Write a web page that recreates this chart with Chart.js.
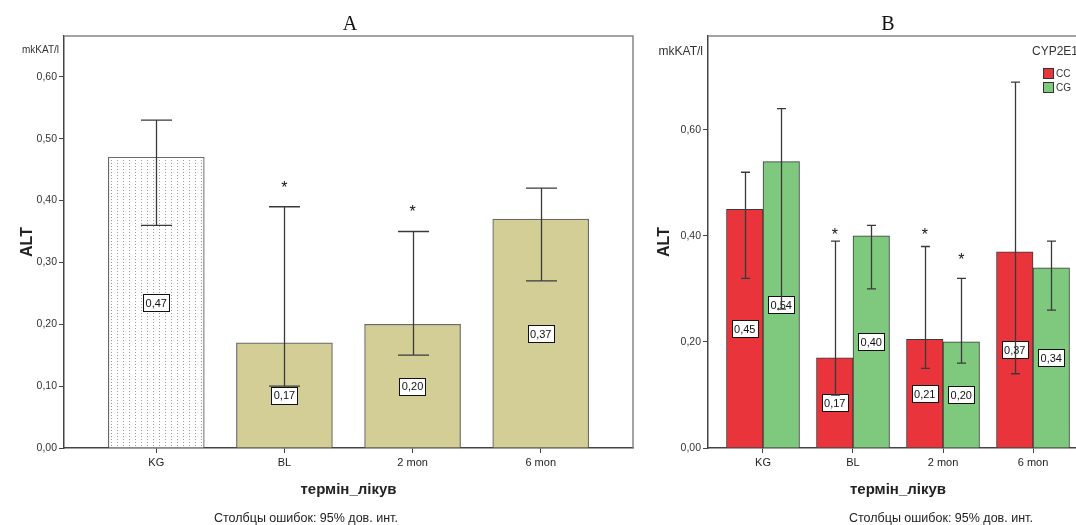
<!DOCTYPE html>
<html><head><meta charset="utf-8">
<script src="https://cdn.jsdelivr.net/npm/chart.js@4/dist/chart.umd.min.js"></script>
<style>
html,body{margin:0;padding:0;background:#fff;overflow:hidden;width:1076px;height:525px;position:relative;}
#ca{position:absolute;left:0;top:0;}
#cb{position:absolute;left:640px;top:0;}
</style></head><body>
<canvas id="ca" width="640" height="525"></canvas>
<canvas id="cb" width="460" height="525"></canvas>
<script>
// ---- data ----
const categories = ['KG', 'BL', '2 mon', '6 mon'];
const yTicksA = [0, 0.1, 0.2, 0.3, 0.4, 0.5, 0.6];
const yTicksB = [0, 0.2, 0.4, 0.6];

const altA      = [0.47, 0.17, 0.20, 0.37];
const altALow   = [0.36, 0.10, 0.15, 0.27];
const altAHigh  = [0.53, 0.39, 0.35, 0.42];
const labelsA   = ['0,47', '0,17', '0,20', '0,37'];
const starsA    = [null, 0.427, 0.388, null];

const altCC     = [0.45, 0.17, 0.205, 0.37];
const altCCLow  = [0.32, 0.10, 0.15, 0.14];
const altCCHigh = [0.52, 0.39, 0.38, 0.69];
const labelsCC  = ['0,45', '0,17', '0,21', '0,37'];
const starsCC   = [null, 0.409, 0.409, null];

const altCG     = [0.54, 0.40, 0.20, 0.34];
const altCGLow  = [0.262, 0.30, 0.16, 0.26];
const altCGHigh = [0.64, 0.42, 0.32, 0.39];
const labelsCG  = ['0,54', '0,40', '0,20', '0,34'];
const starsCG   = [null, null, 0.362, null];

const xTitle = 'термін_лікув';
const yTitle = 'ALT';
const unitText = 'mkKAT/l';
const footnote = 'Столбцы ошибок: 95% дов. инт.';
const legendTitle = 'CYP2E1';

// ---- styling ----
const F = '"Liberation Sans", Arial, sans-serif';
const SERIF = '"Liberation Serif", "Times New Roman", serif';
const AXIS = '#444';

function dotPattern(ctx) {
  const c = document.createElement('canvas');
  c.width = 6; c.height = 3;
  const g = c.getContext('2d');
  g.fillStyle = '#ffffff'; g.fillRect(0, 0, 6, 3);
  g.fillStyle = '#9a9a9a'; g.fillRect(3, 1, 1, 1);
  return ctx.createPattern(c, 'repeat');
}

function toPts(vals) { return vals.map((v, i) => ({ x: i, y: v })); }

function makeScales(o) {
  const tickGrid = { display: true, drawOnChartArea: false, drawTicks: true, tickLength: 5, color: AXIS, offset: false };
  const border = { display: true, color: AXIS, width: 1.5 };
  return {
    x: {
      type: 'linear', min: o.xmin, max: o.xmax, offset: false,
      afterBuildTicks: s => { s.ticks = categories.map((c, i) => ({ value: i })); },
      afterFit: s => { s.height = 52; },
      ticks: { callback: v => categories[v] ?? '', font: { family: F, size: 11 }, color: '#222', padding: 3, maxRotation: 0, autoSkip: false },
      grid: tickGrid, border: border,
      title: { display: true, text: xTitle, font: { family: F, size: 15, weight: 'bold' }, color: '#222', padding: { top: 0, bottom: 1 } }
    },
    y: {
      type: 'linear', min: 0, max: o.ymax,
      afterBuildTicks: s => { s.ticks = o.yticks.map(v => ({ value: v })); },
      afterFit: s => { s.width = o.yw; },
      ticks: { callback: v => Number(v).toFixed(2).replace('.', ','), font: { family: F, size: 10.5 }, color: '#333', padding: 2 },
      grid: tickGrid, border: border,
      title: { display: true, text: yTitle, font: { family: F, size: 16, weight: 'bold' }, color: '#222', padding: { top: 4, bottom: 4 } }
    }
  };
}

const extras = {
  id: 'extras',
  afterDatasetsDraw(chart) {
    const o = chart.options.plugins.extras;
    const { ctx, scales: { y } } = chart;
    chart.data.datasets.forEach((ds, di) => {
      const meta = chart.getDatasetMeta(di);
      meta.data.forEach((bar, i) => {
        const x = bar.x;
        const ly = y.getPixelForValue(ds.data[i].y / 2);
        ctx.save();
        ctx.font = '11px ' + F;
        const w = ctx.measureText(ds.valueLabels[i]).width + 5;
        const h = 17;
        ctx.fillStyle = '#fff';
        ctx.fillRect(Math.round(x - w / 2) + 0.5, Math.round(ly - h / 2) + 0.5, Math.round(w), h);
        ctx.strokeStyle = '#111'; ctx.lineWidth = 1;
        ctx.strokeRect(Math.round(x - w / 2) + 0.5, Math.round(ly - h / 2) + 0.5, Math.round(w), h);
        ctx.fillStyle = '#111'; ctx.textAlign = 'center'; ctx.textBaseline = 'middle';
        ctx.fillText(ds.valueLabels[i], x, ly + 1);
        ctx.restore();
      });
    });
    chart.data.datasets.forEach((ds, di) => {
      const meta = chart.getDatasetMeta(di);
      meta.data.forEach((bar, i) => {
        const x = Math.round(bar.x) + 0.5;
        const yl = y.getPixelForValue(ds.low[i]);
        const yh = y.getPixelForValue(ds.high[i]);
        const c = o.cap;
        ctx.save();
        ctx.strokeStyle = '#3a3a3a'; ctx.lineWidth = 1.3;
        ctx.beginPath();
        ctx.moveTo(x, yl); ctx.lineTo(x, yh);
        ctx.moveTo(x - c, yh); ctx.lineTo(x + c, yh);
        ctx.moveTo(x - c, yl); ctx.lineTo(x + c, yl);
        ctx.stroke();
        if (ds.stars[i] != null) {
          const sy = y.getPixelForValue(ds.stars[i]);
          ctx.fillStyle = '#111'; ctx.font = '16px ' + F;
          ctx.textAlign = 'center'; ctx.textBaseline = 'alphabetic';
          ctx.fillText('*', bar.x, sy + 9);
        }
        ctx.restore();
      });
    });
  },
  afterDraw(chart) {
    const o = chart.options.plugins.extras;
    const { ctx, chartArea: a } = chart;
    ctx.save();
    ctx.strokeStyle = '#858585'; ctx.lineWidth = 1.5;
    ctx.beginPath();
    ctx.moveTo(a.left, a.top); ctx.lineTo(a.right, a.top); ctx.lineTo(a.right, a.bottom);
    ctx.stroke();
    ctx.fillStyle = '#111'; ctx.font = '20px ' + SERIF; ctx.textAlign = 'center'; ctx.textBaseline = 'middle';
    ctx.fillText(o.title, o.titleX, 25);
    ctx.fillStyle = '#333'; ctx.font = o.unitSize + 'px ' + F; ctx.textAlign = 'right';
    ctx.fillText(unitText, a.left - 5, o.unitY);
    ctx.fillStyle = '#222'; ctx.font = '12.5px ' + F; ctx.textAlign = 'left';
    ctx.fillText(footnote, o.footX, 519);
    if (o.legend) {
      ctx.fillStyle = '#333'; ctx.font = '12px ' + F; ctx.textAlign = 'left';
      ctx.fillText(legendTitle, o.legend.x, 52);
      chart.data.datasets.forEach((ds, di) => {
        const ly = 74 + di * 14;
        ctx.fillStyle = ds.backgroundColor;
        ctx.fillRect(o.legend.x + 11.5, ly - 5.5, 10, 10);
        ctx.strokeStyle = '#333'; ctx.lineWidth = 1;
        ctx.strokeRect(o.legend.x + 11.5, ly - 5.5, 10, 10);
        ctx.fillStyle = '#333'; ctx.font = '10px ' + F;
        ctx.fillText(ds.label, o.legend.x + 24, ly + 0.5);
      });
    }
    ctx.restore();
  }
};

// ---- Panel A ----
const ctxA = document.getElementById('ca').getContext('2d');
const khaki = '#d3ce96';
new Chart(ctxA, {
  type: 'bar',
  data: {
    datasets: [{
      label: 'ALT',
      data: toPts(altA),
      low: altALow, high: altAHigh, valueLabels: labelsA, stars: starsA,
      backgroundColor: [dotPattern(ctxA), khaki, khaki, khaki],
      borderColor: '#6a6a6a', borderWidth: 1.2,
      barThickness: 96
    }]
  },
  options: {
    responsive: false, animation: false, devicePixelRatio: 1, events: [],
    layout: { padding: { left: 14, top: 36, right: 7, bottom: 25 } },
    scales: makeScales({ xmin: -0.72, xmax: 3.72, ymax: 0.666, yticks: yTicksA, yw: 50 }),
    plugins: {
      legend: { display: false }, tooltip: { enabled: false },
      extras: { cap: 15.5, title: 'A', titleX: 350, unitSize: 10, unitY: 50, footX: 214 }
    }
  },
  plugins: [extras]
});

// ---- Panel B ----
const ctxB = document.getElementById('cb').getContext('2d');
new Chart(ctxB, {
  type: 'bar',
  data: {
    datasets: [{
      label: 'CC',
      data: toPts(altCC),
      low: altCCLow, high: altCCHigh, valueLabels: labelsCC, stars: starsCC,
      backgroundColor: '#e9343b', borderColor: '#3a3a3a', borderWidth: 1,
      barThickness: 36.5
    }, {
      label: 'CG',
      data: toPts(altCG),
      low: altCGLow, high: altCGHigh, valueLabels: labelsCG, stars: starsCG,
      backgroundColor: '#7fc97f', borderColor: '#3a3a3a', borderWidth: 1,
      barThickness: 36.5
    }]
  },
  options: {
    responsive: false, animation: false, devicePixelRatio: 1, events: [],
    layout: { padding: { left: 11, top: 36, right: 12, bottom: 25 } },
    scales: makeScales({ xmin: -0.611, xmax: 3.611, ymax: 0.777, yticks: yTicksB, yw: 57 }),
    plugins: {
      legend: { display: false }, tooltip: { enabled: false },
      extras: { cap: 4.5, title: 'B', titleX: 248, unitSize: 12, unitY: 52, footX: 209, legend: { x: 392 } }
    }
  },
  plugins: [extras]
});
</script>
</body></html>
